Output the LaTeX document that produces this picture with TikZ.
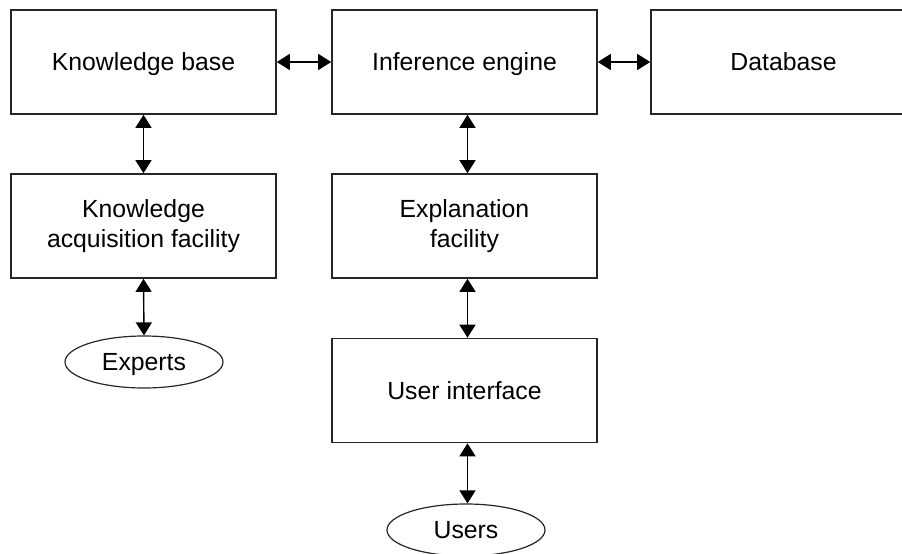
\documentclass[tikz,border=0pt]{standalone}
\usepackage{fontspec}
\setmainfont{Liberation Sans}
\usetikzlibrary{arrows.meta,shapes.geometric}
\begin{document}
\begin{tikzpicture}[x=1pt,y=-1pt,
  txt/.style={font=\fontsize{24.8}{30}\selectfont},
  one/.style={text height=17.8pt, text depth=0pt},
  box/.style={txt, draw=black!85, line width=1.6pt, rectangle, minimum width=265pt, minimum height=104pt, inner sep=0pt, align=center},
  oval/.style={txt, one, draw=black!85, line width=1.2pt, ellipse, minimum width=158pt, minimum height=52pt, inner sep=0pt},
  link/.style={line width=1.4pt, {Triangle[length=13pt,width=16pt]}-{Triangle[length=13pt,width=16pt]}}
]
\path[use as bounding box, clip] (0,0) rectangle (902,554);
\node[box, one] (kb) at (143.5,62) {Knowledge base};
\node[box, one] (ie) at (464.5,62) {Inference engine};
\node[box, one] (db) at (783.5,62) {Database};
\node[box] (kaf) at (143.5,226) {Knowledge\\acquisition facility};
\node[box] (ef) at (464.5,226) {Explanation\\facility};
\node[box, one] (ui) at (464.5,390.5) {User interface};
\node[oval] (ex) at (144,362) {Experts};
\node[oval] (us) at (466,530) {Users};
\draw[link] (kb.east) -- (ie.west);
\draw[link] (ie.east) -- (db.west);
\draw[link] (kb.south) -- (kaf.north);
\draw[link] (kaf.south) -- (ex.north);
\draw[link] ([xshift=3pt]ie.south) -- ([xshift=3pt]ef.north);
\draw[link] ([xshift=3pt]ef.south) -- ([xshift=3pt]ui.north);
\draw[link] ([xshift=3pt]ui.south) -- ([xshift=3pt]ui.south |- us.north);
\end{tikzpicture}
\end{document}
